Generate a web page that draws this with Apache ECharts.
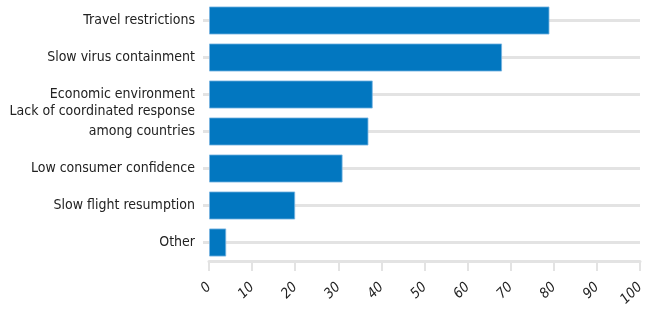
<!DOCTYPE html>
<html>
<head>
<meta charset="utf-8">
<script src="https://cdn.jsdelivr.net/npm/echarts@6/dist/echarts.min.js"></script>
<style>
  html, body { margin: 0; padding: 0; background: #fff; }
  #main { width: 649px; height: 312px; }
</style>
</head>
<body>
<div id="main"></div>
<script>
// categories, top to bottom
var categories = [
  'Travel restrictions',
  'Slow virus containment',
  'Economic environment',
  'Lack of coordinated response\namong countries',
  'Low consumer confidence',
  'Slow flight resumption',
  'Other'
];
var values = [79, 68, 38, 37, 31, 20, 4];
var xTicks = [0, 10, 20, 30, 40, 50, 60, 70, 80, 90, 100];

var labelFont = '"Liberation Sans Narrow", "DejaVu Sans Condensed", sans-serif';

var myChart = echarts.init(document.getElementById('main'));
var option = {
  animation: false,
  grid: { left: 209, right: 9, top: 2, bottom: 51, outerBoundsMode: 'none' },
  xAxis: {
    type: 'value',
    min: xTicks[0],
    max: xTicks[xTicks.length - 1],
    interval: 10,
    axisLine: { show: true, lineStyle: { color: '#e3e3e3', width: 3 } },
    axisTick: { show: true, length: 10, lineStyle: { color: '#e3e3e3', width: 2 } },
    splitLine: { show: false },
    axisLabel: {
      rotate: 45,
      margin: 24,
      fontFamily: labelFont,
      fontStyle: 'italic',
      fontSize: 14,
      color: '#222'
    }
  },
  yAxis: {
    type: 'category',
    inverse: true,
    data: categories,
    axisLine: { show: false },
    axisTick: { show: true, alignWithLabel: true, length: 6, lineStyle: { color: '#e3e3e3', width: 3 } },
    splitLine: { show: true, alignWithLabel: true, lineStyle: { color: '#e3e3e3', width: 3 } },
    axisLabel: {
      margin: 14,
      fontFamily: labelFont,
      fontSize: 14,
      lineHeight: 20,
      color: '#222',
      // two-line label: last line sits on the tick, first line above it
      formatter: function (v) {
        return v.indexOf('\n') >= 0 ? v + '\n ' : v;
      }
    }
  },
  series: [{
    type: 'bar',
    data: values,
    barCategoryGap: '24%',
    itemStyle: {
      color: '#0277c0',
      borderColor: 'rgba(120,180,225,0.8)',
      borderWidth: 1
    }
  }]
};
myChart.setOption(option);
</script>
</body>
</html>
